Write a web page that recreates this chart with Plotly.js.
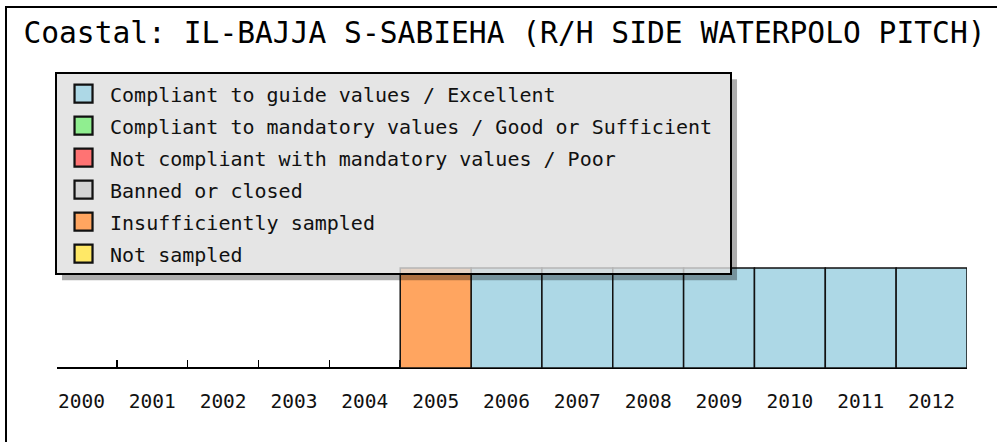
<!DOCTYPE html>
<html>
<head>
<meta charset="utf-8">
<script src="https://cdn.plot.ly/plotly-3.0.1.min.js"></script>
<style>
html,body{margin:0;padding:0;background:#fff;}
#chart{width:997px;height:442px;}
</style>
</head>
<body>
<div id="chart"></div>
<script>
// ---- data ----
const titleText = "Coastal: IL-BAJJA S-SABIEHA (R/H SIDE WATERPOLO PITCH)";
const years = [2000, 2001, 2002, 2003, 2004, 2005, 2006, 2007, 2008, 2009, 2010, 2011, 2012];
const yearLabels = ["2000","2001","2002","2003","2004","2005","2006","2007","2008","2009","2010","2011","2012"];
const categories = [
  "Compliant to guide values / Excellent",
  "Compliant to mandatory values / Good or Sufficient",
  "Not compliant with mandatory values / Poor",
  "Banned or closed",
  "Insufficiently sampled",
  "Not sampled"
];
const categoryColors = ["#add8e6", "#90ee90", "#ff7373", "#d3d3d3", "#ffa560", "#ffe866"];
// status index per year (null = no bar)
const yearStatus = [null, null, null, null, null, 4, 0, 0, 0, 0, 0, 0, 0];
const barHeight = 1;

// ---- traces ----
const data = categories.map((name, ci) => {
  const xs = [], ys = [];
  years.forEach((yr, i) => { if (yearStatus[i] === ci) { xs.push(yr); ys.push(barHeight); } });
  return {
    type: 'bar',
    name: name + '\u00a0',
    x: xs.length ? xs : [null],
    y: ys.length ? ys : [null],
    width: 1,
    legendgroup: 'g' + ci,
    marker: { color: categoryColors[ci], line: { color: '#111', width: 1.5 } },
    hoverinfo: 'skip'
  };
});

const boundaries = years.slice(1).map(y => y - 0.5);
const FONT = "DejaVu Sans Mono, Liberation Mono, monospace";

const layout = {
  width: 997, height: 442,
  margin: { l: 46, r: 30, t: 266, b: 74, pad: 0 },
  paper_bgcolor: '#fff', plot_bgcolor: 'rgba(0,0,0,0)',
  barmode: 'overlay', bargap: 0,
  showlegend: true,
  title: {
    text: titleText,
    font: { family: FONT, size: 29.6, color: '#000' },
    x: 0.506, xref: 'container', xanchor: 'center',
    y: 1 - 33 / 442, yref: 'container', yanchor: 'middle'
  },
  legend: {
    x: 0.0098, xanchor: 'left', y: 2.9, yanchor: 'top',
    bgcolor: 'rgba(222,222,222,0.8)', bordercolor: '#000', borderwidth: 2,
    font: { family: FONT, size: 20, color: '#111' },
    traceorder: 'grouped', tracegroupgap: 3,
    itemwidth: 43, itemclick: false, itemdoubleclick: false
  },
  xaxis: {
    type: 'linear', range: [1999.5, 2012.5], fixedrange: true,
    tickmode: 'array', tickvals: years, ticktext: yearLabels,
    ticks: '', showgrid: false, zeroline: false,
    showline: false,
    ticklabelstandoff: 19,
    layer: 'below traces',
    tickfont: { family: FONT, size: 19.5, color: '#111' },
    minor: { tickmode: 'array', tickvals: boundaries, ticks: 'inside', ticklen: 8, tickwidth: 1.5, tickcolor: '#000', showgrid: false }
  },
  yaxis: { range: [0, 1.02], visible: false, fixedrange: true }
};

const gd = document.getElementById('chart');
Plotly.newPlot(gd, data, layout, { staticPlot: true, displayModeBar: false }).then(() => {
  const fs = gd._fullLayout._size;
  const px2x = p => (p - fs.l) / fs.w;
  const py2y = p => 1 - (p - fs.t) / fs.h;
  const bg = gd.querySelector('.legend .bg');
  const r = bg.getBoundingClientRect(), g = gd.getBoundingClientRect();
  const L = r.left - g.left, T = r.top - g.top, R = L + r.width, B = T + r.height;
  const off = 6;
  const shadow = 'rgba(0,0,0,0.32)';
  const shapes = [
    // axis baseline
    { type: 'line', xref: 'paper', yref: 'paper', layer: 'below', x0: px2x(57), x1: 1, y0: 0, y1: 0, line: { color: '#000', width: 2 } },
    // frame
    { type: 'line', xref: 'paper', yref: 'paper', x0: px2x(6), x1: px2x(6), y0: py2y(6), y1: py2y(445), line: { color: '#000', width: 2 } },
    { type: 'line', xref: 'paper', yref: 'paper', x0: px2x(5), x1: px2x(1000), y0: py2y(7), y1: py2y(7), line: { color: '#000', width: 2 } },
    // legend shadow
    { type: 'rect', xref: 'paper', yref: 'paper', layer: 'above', x0: px2x(R), x1: px2x(R + off), y0: py2y(T + off), y1: py2y(B + off), fillcolor: shadow, line: { width: 0 } },
    { type: 'rect', xref: 'paper', yref: 'paper', layer: 'above', x0: px2x(L + off), x1: px2x(R), y0: py2y(B), y1: py2y(B + off), fillcolor: shadow, line: { width: 0 } }
  ];
  return Plotly.relayout(gd, { shapes: shapes });
}).then(() => {
  gd.querySelectorAll('.legend .legendpoints path').forEach(p => {
    const t = p.getAttribute('transform') || '';
    p.setAttribute('transform', t + ' scale(1.5)');
  });
});
</script>
</body>
</html>
